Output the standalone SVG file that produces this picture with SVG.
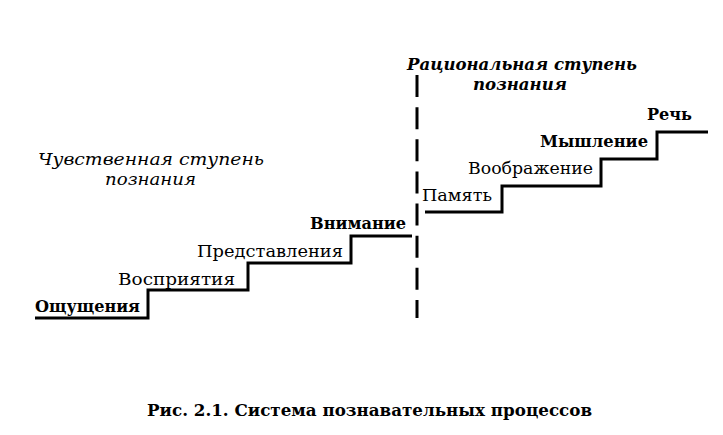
<svg xmlns="http://www.w3.org/2000/svg" width="723" height="435" viewBox="0 0 723 435">
<style>
.lbl{font-family:"DejaVu Serif","Liberation Serif",serif;font-size:17.5px;fill:#000}
.b{font-weight:bold}
.hd{font-family:"DejaVu Serif","Liberation Serif",serif;font-size:16.5px;font-style:italic;fill:#000}
.cap{font-family:"DejaVu Serif","Liberation Serif",serif;font-size:16px;font-weight:bold;fill:#000}
.step{fill:none;stroke:#000;stroke-width:3;stroke-linejoin:miter}
.div{fill:none;stroke:#000;stroke-width:3;stroke-dasharray:22 10.14}
</style>
<rect width="723" height="435" fill="#fff"/>
<g id="headings">
<text class="hd" x="38" y="165" textLength="226" lengthAdjust="spacingAndGlyphs">Чувственная ступень</text>
<text class="hd" x="105" y="185" textLength="91" lengthAdjust="spacingAndGlyphs">познания</text>
<text class="hd b" x="407" y="70" textLength="230" lengthAdjust="spacingAndGlyphs">Рациональная ступень</text>
<text class="hd b" x="473" y="90" textLength="94" lengthAdjust="spacingAndGlyphs">познания</text>
</g>
<g id="connectors">
<path class="step" d="M35 318 H148 V290 H248 V263 H351 V236 H412"/>
<path class="step" d="M425 212 H502 V186 H601 V159 H657 V132 H708"/>
<path class="div" d="M417 75 V318"/>
</g>
<g id="n-oshch"><text class="lbl b" x="35" y="312" textLength="105" lengthAdjust="spacingAndGlyphs">Ощущения</text></g>
<g id="n-vospr"><text class="lbl" x="118" y="285" textLength="117" lengthAdjust="spacingAndGlyphs">Восприятия</text></g>
<g id="n-predst"><text class="lbl" x="197" y="257" textLength="146" lengthAdjust="spacingAndGlyphs">Представления</text></g>
<g id="n-vnim"><text class="lbl b" x="310" y="229" textLength="96" lengthAdjust="spacingAndGlyphs">Внимание</text></g>
<g id="n-pamyat"><text class="lbl" x="422" y="201" textLength="70" lengthAdjust="spacingAndGlyphs">Память</text></g>
<g id="n-voobr"><text class="lbl" x="468" y="174" textLength="125" lengthAdjust="spacingAndGlyphs">Воображение</text></g>
<g id="n-mysh"><text class="lbl b" x="540" y="147" textLength="108" lengthAdjust="spacingAndGlyphs">Мышление</text></g>
<g id="n-rech"><text class="lbl b" x="647" y="120" textLength="45" lengthAdjust="spacingAndGlyphs">Речь</text></g>
<g id="caption"><text class="cap" x="147" y="416" textLength="445" lengthAdjust="spacingAndGlyphs">Рис. 2.1. Система познавательных процессов</text></g>
</svg>
